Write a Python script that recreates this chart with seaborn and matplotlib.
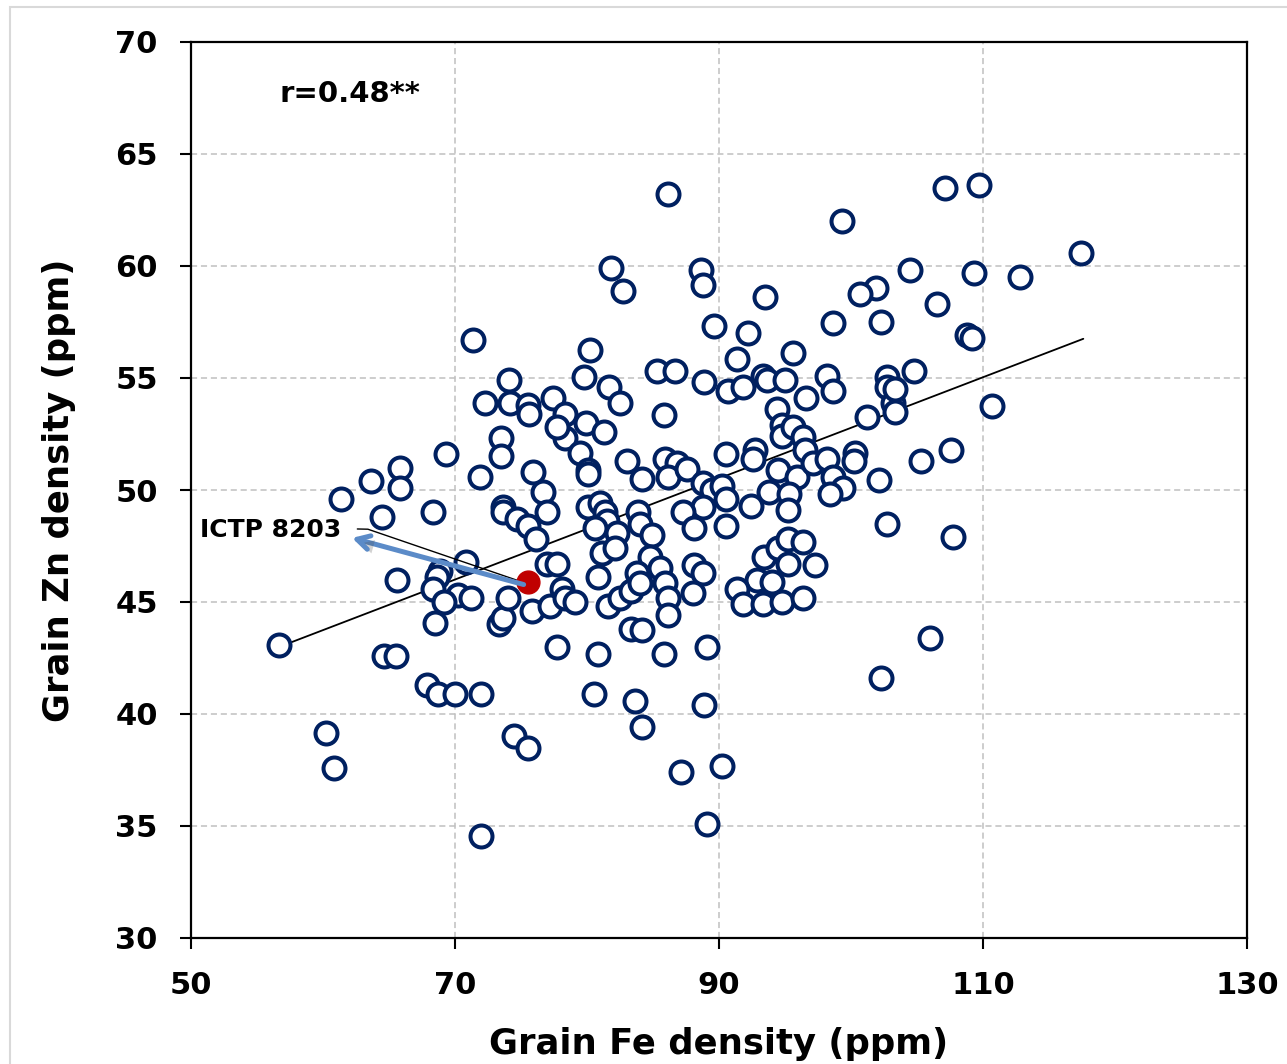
import matplotlib
matplotlib.use("Agg")
import matplotlib.pyplot as plt
import matplotlib.patheffects as pe
from matplotlib.patches import Rectangle
import seaborn as sns
import pandas as pd

# ---------------- data ----------------
fe = [86.1, 107.1, 109.7, 99.3, 117.4, 81.8, 88.6, 88.8, 82.7, 104.5, 109.3, 112.8, 101.9,
      100.7, 93.5, 106.5, 89.6, 92.2, 98.6, 102.3, 71.4, 108.8, 109.2, 80.2, 91.4, 95.6,
      79.8, 81.7, 82.5, 85.3, 86.7, 88.9, 90.7, 91.8, 93.3, 93.6, 95.0, 98.2, 98.6, 96.6,
      102.7, 102.7, 103.2, 101.2, 104.8, 103.3, 103.3, 110.7, 74.1, 72.3, 74.2, 75.5, 75.6,
      77.4, 78.3, 79.9, 81.3, 78.3, 77.7, 85.8, 94.4, 94.8, 94.8, 95.6, 96.4,
      73.5, 73.5, 69.3, 71.9, 75.9, 76.7, 77.0, 65.8, 65.8, 63.6, 61.4, 64.5, 68.3, 73.6,
      73.6, 74.7, 75.5, 76.1, 79.5, 80.1, 80.1, 83.0, 84.2, 85.9, 86.8, 86.1, 87.6, 88.8,
      89.5, 90.2, 90.5, 88.8, 87.3, 88.1, 90.5, 90.5, 92.7, 92.6, 94.5, 95.9, 96.5, 97.1,
      98.2, 100.3, 100.2, 98.6, 99.4, 98.4, 102.1, 102.7, 93.8, 95.3, 95.2, 92.4, 80.1,
      81.0, 81.4, 81.5, 80.6, 82.3, 83.9, 84.0, 84.9, 107.7, 105.3, 107.6,
      70.8, 68.9, 68.6, 68.3, 65.6, 70.2, 71.2, 69.2, 68.5, 73.3, 73.6, 74.0, 75.8, 77.2,
      77.0, 56.7, 81.1, 82.1, 84.8, 85.5, 83.8, 80.8, 88.1, 88.8, 93.4, 94.5, 95.2, 96.4,
      95.2, 97.3, 92.9, 94.0, 91.4, 91.8, 93.3, 94.8, 96.4, 77.7, 78.1, 78.3, 79.1, 81.6,
      82.5, 83.3, 84.0, 85.9, 86.1, 86.1, 88.0, 83.3, 84.2, 77.7, 64.6, 65.5, 80.8, 85.8,
      89.1, 102.3, 106.0,
      67.9, 68.7, 70.0, 72.0, 80.5, 83.6, 84.2, 88.9, 60.2, 60.8, 74.5, 75.5, 90.2, 87.1,
      89.1, 72.0]
zn = [63.2, 63.5, 63.6, 62.0, 60.6, 59.9, 59.8, 59.15, 58.9, 59.8, 59.7, 59.5, 59.0,
      58.75, 58.6, 58.3, 57.3, 57.0, 57.45, 57.5, 56.7, 56.9, 56.8, 56.25, 55.85, 56.1,
      55.05, 54.6, 53.9, 55.3, 55.3, 54.8, 54.4, 54.6, 55.1, 54.9, 54.9, 55.1, 54.4, 54.1,
      55.05, 54.6, 53.9, 53.25, 55.3, 54.5, 53.5, 53.75, 54.9, 53.9, 53.9, 53.8, 53.4,
      54.1, 53.4, 53.0, 52.6, 52.3, 52.8, 53.35, 53.6, 52.9, 52.4, 52.8, 52.35,
      52.3, 51.5, 51.6, 50.6, 50.8, 49.9, 49.0, 51.0, 50.1, 50.4, 49.6, 48.8, 49.0, 49.25,
      49.0, 48.7, 48.4, 47.8, 51.65, 50.9, 50.7, 51.3, 50.5, 51.4, 51.2, 50.6, 50.95, 50.3,
      50.0, 50.2, 49.6, 49.25, 49.0, 48.3, 48.4, 51.6, 51.8, 51.4, 50.9, 50.6, 51.8, 51.2,
      51.4, 51.65, 51.3, 50.6, 50.1, 49.8, 50.45, 48.5, 49.9, 49.8, 49.1, 49.3, 49.25,
      49.4, 49.0, 48.6, 48.3, 48.1, 49.0, 48.5, 48.0, 47.9, 51.3, 51.8,
      46.8, 46.4, 46.1, 45.6, 46.0, 45.3, 45.2, 45.0, 44.05, 44.0, 44.3, 45.2, 44.6, 44.8,
      46.7, 43.1, 47.2, 47.4, 47.0, 46.5, 46.3, 46.1, 46.65, 46.3, 47.0, 47.4, 47.8, 47.7,
      46.7, 46.65, 46.0, 45.9, 45.6, 44.9, 44.9, 45.0, 45.2, 46.7, 45.6, 45.2, 45.0, 44.8,
      45.2, 45.5, 45.85, 45.85, 45.2, 44.4, 45.4, 43.8, 43.75, 43.0, 42.6, 42.6, 42.7, 42.7,
      43.0, 41.6, 43.4,
      41.3, 40.9, 40.9, 40.9, 40.9, 40.6, 39.4, 40.4, 39.15, 37.6, 39.0, 38.5, 37.7, 37.4,
      35.1, 34.55]

highlight_fe = [75.5]
highlight_zn = [45.9]
highlight_label = "ICTP 8203"

trend_fe = [56.7, 117.6]
trend_zn = [43.0, 56.75]

corr_text = "r=0.48**"
x_ticks = [50, 70, 90, 110, 130]
y_ticks = [30, 35, 40, 45, 50, 55, 60, 65, 70]
x_label = "Grain Fe density (ppm)"
y_label = "Grain Zn density (ppm)"

# ---------------- figure ----------------
sns.set_style("white")
plt.rcParams["font.family"] = ["DejaVu Sans"]
plt.rcParams["text.color"] = "black"
plt.rcParams["axes.labelcolor"] = "black"
plt.rcParams["xtick.color"] = "black"
plt.rcParams["ytick.color"] = "black"

W, H = 1287, 1064
fig = plt.figure(figsize=(W / 100, H / 100), dpi=100)
ax = fig.add_axes([191 / W, 1 - 938 / H, (1247 - 191) / W, (938 - 42) / H])

df = pd.DataFrame({"fe": fe, "zn": zn})
navy = "#002060"

ax.plot(trend_fe, trend_zn, color="black", lw=1.3, zorder=2)

sns.scatterplot(data=df, x="fe", y="zn", ax=ax, s=250, marker="o",
                color="white", edgecolor=navy, linewidth=2.9, zorder=3, legend=False)
sns.scatterplot(x=highlight_fe, y=highlight_zn, ax=ax, s=270, marker="o",
                color="#C00000", edgecolor="#C00000", linewidth=1, zorder=5, legend=False)

ax.set_xlim(50, 130)
ax.set_ylim(30, 70)
ax.set_xticks(x_ticks)
ax.set_yticks(y_ticks)
ax.grid(True, ls=(0, (4, 2.5)), color="#c0c0c0", lw=1.1, zorder=0)
ax.set_axisbelow(True)

for s in ax.spines.values():
    s.set_visible(True)
    s.set_color("black")
    s.set_linewidth(1.6)

ax.tick_params(axis="both", direction="out", length=8, width=1.5, colors="black",
               labelsize=22, bottom=True, left=True, top=False, right=False)
ax.tick_params(axis="y", pad=16)
ax.tick_params(axis="x", pad=16)
for lab in ax.get_xticklabels() + ax.get_yticklabels():
    lab.set_fontweight("bold")

ax.set_xlabel(x_label, fontsize=25.5, fontweight="bold", labelpad=19)
ax.set_ylabel(y_label, fontsize=25.5, fontweight="bold", labelpad=28)

# correlation text
ax.text(56.7, 67.7, corr_text, fontsize=21, fontweight="bold", va="center", ha="left")

# highlighted genotype label + leader line
ax.text(50.7, 48.2, highlight_label, fontsize=18, fontweight="bold", va="center", ha="left")
ax.plot([62.6, 63.4, 75.3], [48.26, 48.25, 45.85], color="black", lw=1.0, zorder=4)

arr = ax.annotate("", xy=(62.2, 47.86), xytext=(75.2, 45.78),
                  arrowprops=dict(arrowstyle="->,head_length=0.9,head_width=0.5",
                                  color="#5b8bc8", lw=3.6, shrinkA=0, shrinkB=0),
                  zorder=6)
arr.arrow_patch.set_path_effects([pe.SimplePatchShadow(offset=(3, -3), alpha=0.25),
                                  pe.Normal()])

# chart-area border
fig.patches.append(Rectangle((10 / W, -0.05), 1.2, 1 - 7 / H + 0.05,
                             transform=fig.transFigure, fill=False,
                             edgecolor="#d9d9d9", lw=1.5))

fig.savefig("out.png", dpi=100)
